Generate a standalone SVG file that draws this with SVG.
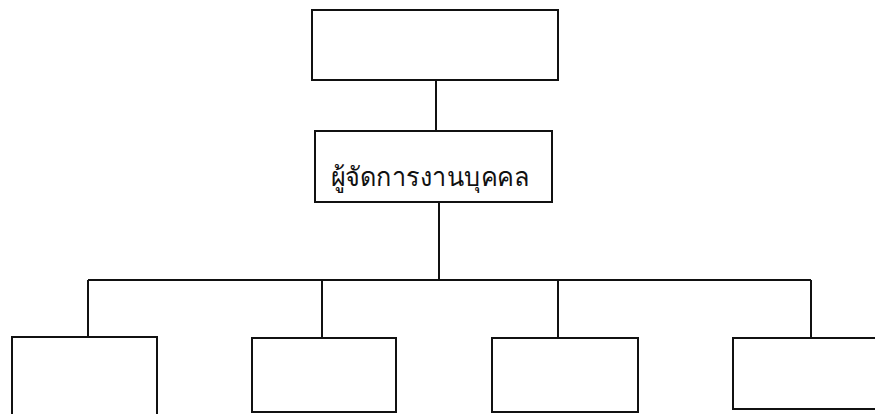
<svg xmlns="http://www.w3.org/2000/svg" width="875" height="414" viewBox="0 0 875 414">
<style>
.box{fill:none;stroke:#111;stroke-width:2}
.ln{fill:none;stroke:#111;stroke-width:2}
.lbl{font-family:"Noto Sans","DejaVu Sans",sans-serif;font-size:26px;fill:#111}
</style>
<rect width="875" height="414" fill="#fff"/>
<g id="connectors">
<path class="ln" d="M436 80 V131"/>
<path class="ln" d="M439 202 V280"/>
<path class="ln" d="M88 280 H811"/>
<path class="ln" d="M88 280 V337"/>
<path class="ln" d="M322 280 V338"/>
<path class="ln" d="M558 280 V338"/>
<path class="ln" d="M811 280 V338"/>
</g>
<g id="node-top"><rect class="box" x="312" y="10" width="246" height="70"/></g>
<g id="node-manager"><rect class="box" x="315" y="131" width="237" height="71"/>
<text class="lbl" x="430" y="186" text-anchor="middle" textLength="199" lengthAdjust="spacingAndGlyphs">ผู้จัดการงานบุคคล</text></g>
<g id="node-1"><path class="box" d="M12 420 V337 H157 V420"/></g>
<g id="node-2"><rect class="box" x="252" y="338" width="144" height="74"/></g>
<g id="node-3"><rect class="box" x="492" y="338" width="146" height="74"/></g>
<g id="node-4"><path class="box" d="M880 338 H733 V409 H880"/></g>
</svg>
